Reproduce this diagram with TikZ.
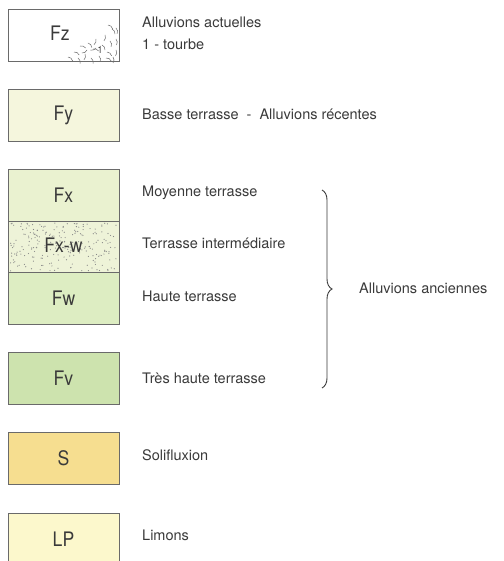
\documentclass[tikz,border=0pt]{standalone}
\usepackage{fontspec}
\setsansfont{TeX Gyre Heros}
\newfontfamily\boxfont[FakeStretch=0.88]{TeX Gyre Heros}
\usetikzlibrary{decorations.pathreplacing}

\definecolor{inkgray}{HTML}{3A3A3A}
\definecolor{edgegray}{HTML}{6A6A6A}
\definecolor{colFy}{HTML}{F5F6DD}
\definecolor{colFx}{HTML}{EAF2D0}
\definecolor{colFxw}{HTML}{EEF3D8}
\definecolor{colFw}{HTML}{DDEDC2}
\definecolor{colFv}{HTML}{CDE3AE}
\definecolor{colS}{HTML}{F6DE90}
\definecolor{colLP}{HTML}{FCF8CC}

\tikzset{
  legendbox/.style={draw=edgegray, line width=0.8pt, minimum width=111pt, minimum height=52pt,
    inner sep=0pt, outer sep=0pt, font=\boxfont\fontsize{20}{20}\selectfont, text=inkgray},
  legendtext/.style={anchor=west, inner sep=0pt, font=\sffamily\fontsize{14.5}{14.5}\selectfont, text=inkgray}
}

\begin{document}
\begin{tikzpicture}[x=1pt, y=-1pt]
\useasboundingbox (0,0) rectangle (503,561);

\node[legendbox, fill=white] (fz) at (63.5,35) {};
\foreach \px/\py/\ang in {68/57/40, 74/52/30, 78/58/70, 80/46/20, 85/54/100, 88/43/50, 91/58/70,
  93/49/20, 96/39/110, 99/56/80, 102/45/60, 105/35/100, 107/52/40, 110/41/80, 112/29/60,
  113/57/90, 108/25/40, 87/50/150, 96/48/160, 106/58/30, 116/50/95, 116/39/85, 116/28/80}
  \draw[edgegray, line width=0.5pt] (\px,\py) to[bend left=35] ++(\ang:6);
\node[inner sep=0pt, font=\boxfont\fontsize{10}{10}\selectfont, text=inkgray] (tourbe) at (100,50) {1};
\node[inner sep=0pt, font=\boxfont\fontsize{20}{20}\selectfont, text=inkgray] (fzlab) at (60,33) {Fz};

\node[legendbox, fill=colFy] (fy) at (63.5,115.5) {Fy};

\node[legendbox, fill=colFx] (fx) at (63.5,195) {Fx};
\node[legendbox, fill=colFxw] (fxw) at (63.5,247) {};
\pgfmathsetseed{11}
\foreach \i in {1,...,230}
  \fill[edgegray!80] ({10+107*rnd},{223+48*rnd}) circle (0.6pt);
\node[inner sep=0pt, font=\boxfont\fontsize{20}{20}\selectfont, text=inkgray] (fxwlab) at (63.5,245) {Fx-w};
\node[legendbox, fill=colFw] (fw) at (63.5,298) {Fw};

\node[legendbox, fill=colFv] (fv) at (63.5,378.5) {Fv};
\node[legendbox, fill=colS] (s) at (63.5,458.5) {S};
\node[legendbox, fill=colLP] (lp) at (63.5,539) {LP};

\node[legendtext] (tz1) at (142,22) {Alluvions actuelles};
\node[legendtext] (tz2) at (142,44) {1 - tourbe};
\node[legendtext] (ty) at (142,114) {Basse terrasse\ \ -\ \ Alluvions récentes};
\node[legendtext] (tx) at (142,193) {Moyenne terrasse};
\node[legendtext] (txw) at (142,243) {Terrasse intermédiaire};
\node[legendtext] (tw) at (142,296) {Haute terrasse};
\node[legendtext] (tv) at (142,378) {Très haute terrasse};
\node[legendtext] (ts) at (142,455) {Solifluxion};
\node[legendtext] (tlp) at (142,535) {Limons};

\coordinate (bracetop) at (322,190);
\coordinate (bracebot) at (322,388);
\draw[inkgray, line width=0.9pt, decorate, decoration={brace, amplitude=10pt}] (bracetop) -- (bracebot);
\node[legendtext] (tanc) at (359,288) {Alluvions anciennes};
\end{tikzpicture}
\end{document}
